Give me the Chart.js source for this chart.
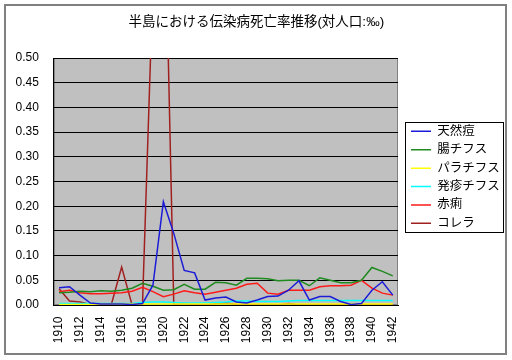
<!DOCTYPE html>
<html>
<head>
<meta charset="utf-8">
<script src="https://cdn.jsdelivr.net/npm/chart.js@4.4.1/dist/chart.umd.min.js"></script>
<style>
html, body { margin: 0; padding: 0; background: #fff; }
#wrap { width: 512px; height: 360px; }
</style>
</head>
<body>
<div id="wrap"><canvas id="chart"></canvas></div>
<script>
const years = ['1910','1911','1912','1913','1914','1915','1916','1917','1918','1919','1920',
  '1921','1922','1923','1924','1925','1926','1927','1928','1929','1930',
  '1931','1932','1933','1934','1935','1936','1937','1938','1939','1940','1941','1942'];

const smallpox = [0.035,0.037,0.020,0.004,0.002,0.002,0.002,0.001,0.003,0.040,0.209,
  0.145,0.070,0.065,0.010,0.014,0.016,0.006,0.004,0.010,0.017,
  0.018,0.030,0.049,0.010,0.017,0.017,0.007,0.001,0.003,0.030,0.047,0.020];
const typhoid = [0.025,0.026,0.028,0.027,0.029,0.028,0.030,0.034,0.044,0.038,0.030,
  0.031,0.042,0.032,0.032,0.046,0.045,0.040,0.054,0.054,0.053,
  0.049,0.050,0.050,0.039,0.055,0.050,0.045,0.045,0.050,0.076,0.068,0.059];
const paratyphoid = [0.001,0.001,0.001,0.001,0.002,0.002,0.002,0.002,0.002,0.002,0.002,
  0.002,0.002,0.002,0.002,0.002,0.002,0.002,0.002,0.002,0.002,
  0.002,0.002,0.002,0.002,0.002,0.002,0.002,0.002,0.002,0.002,0.002,0.002];
const typhus = [0.003,0.003,0.003,0.003,0.003,0.003,0.003,0.003,0.005,0.006,0.006,
  0.005,0.004,0.004,0.004,0.005,0.006,0.008,0.008,0.007,0.007,
  0.007,0.008,0.009,0.009,0.009,0.009,0.009,0.009,0.009,0.009,0.009,0.009];
const dysentery = [0.027,0.030,0.025,0.023,0.023,0.024,0.025,0.028,0.036,0.027,0.017,
  0.022,0.029,0.025,0.022,0.026,0.030,0.034,0.042,0.044,0.024,
  0.022,0.030,0.030,0.030,0.037,0.039,0.039,0.040,0.050,0.034,0.024,0.020];
const cholera = [0.033,0.008,0.006,0.001,0.000,0.000,0.077,0.000,0.001,0.650,0.950,
  0.001,0.003,0.001,0.000,0.003,0.004,0.001,0.000,0.001,0.000,
  0.000,0.003,0.000,0.000,0.000,0.000,0.000,0.000,0.000,0.000,0.000,0.000];

const FONT = "'Liberation Sans', 'Noto Sans CJK JP', sans-serif";

const series = [
  { label: '天然痘', data: smallpox, color: '#1c1cd8' },
  { label: '腸チフス', data: typhoid, color: '#1f8a1f' },
  { label: 'パラチフス', data: paratyphoid, color: '#ffff00' },
  { label: '発疹チフス', data: typhus, color: '#00ffff' },
  { label: '赤痢', data: dysentery, color: '#ff1a1a' },
  { label: 'コレラ', data: cholera, color: '#a02020' }
];

// page frame, grey plot area, legend box
const frame = {
  id: 'frame',
  beforeUpdate(chart) {
    const lg = chart.legend;
    if (lg && !lg._patched) {
      lg._patched = true;
      const fit = lg.fit, draw = lg.draw;
      // legend column is 114px wide, items start a bit inside it
      lg.fit = function () { fit.call(this); this.width = 114; };
      lg.draw = function () {
        const dx = 411 - (this.left + this.options.labels.padding);
        this.left += dx; draw.call(this); this.left -= dx;
      };
    }
  },
  beforeDraw(chart) {
    const { ctx, chartArea: a } = chart;
    ctx.save();
    ctx.fillStyle = '#fff';
    ctx.fillRect(0, 0, chart.width, chart.height);
    ctx.strokeStyle = '#808080';
    ctx.lineWidth = 2;
    ctx.strokeRect(5, 5, 501, 349);
    ctx.fillStyle = '#c0c0c0';
    ctx.fillRect(a.left, a.top, a.right - a.left, a.bottom - a.top);
    ctx.lineWidth = 1;
    ctx.strokeStyle = '#808080';
    ctx.strokeRect(a.left + 0.5, a.top + 0.5, a.right - a.left - 1, a.bottom - a.top - 1);
    ctx.restore();
  },
  afterDraw(chart) {
    const hb = chart.legend.legendHitBoxes;
    if (!hb || !hb.length) return;
    const ctx = chart.ctx;
    const first = hb[0], last = hb[hb.length - 1];
    const y0 = Math.round(first.top + first.height / 2 - 9.5) + 0.5;
    const y1 = Math.round(last.top + last.height / 2 + 9) + 0.5;
    ctx.save();
    ctx.strokeStyle = '#000';
    ctx.lineWidth = 1;
    ctx.strokeRect(405.5, y0, 98, y1 - y0);
    ctx.restore();
  }
};

new Chart(document.getElementById('chart'), {
  type: 'line',
  data: {
    labels: years,
    datasets: series.map(s => ({
      label: s.label,
      data: s.data,
      borderColor: s.color,
      backgroundColor: s.color,
      borderWidth: 1.5,
      pointRadius: 0,
      tension: 0,
      fill: false
    }))
  },
  options: {
    responsive: true,
    maintainAspectRatio: false,
    animation: false,
    layout: { padding: { top: 0, left: 0.5, right: 0, bottom: 5.3 } },
    plugins: {
      title: {
        display: true,
        text: '半島における伝染病死亡率推移(対人口:‰)',
        color: '#000',
        font: { family: FONT, size: 13.5, weight: 'normal' },
        padding: { top: 14.4, bottom: 27.4 }
      },
      legend: {
        position: 'right',
        labels: {
          color: '#000',
          font: { family: FONT, size: 12.5 },
          usePointStyle: true,
          pointStyle: 'line',
          pointStyleWidth: 20,
          padding: 5.9
        }
      },
      tooltip: { enabled: false }
    },
    scales: {
      x: {
        offset: true,
        grid: { display: false, drawTicks: false },
        border: { display: true, color: '#000', width: 1 },
        ticks: {
          color: '#000',
          font: { family: FONT, size: 12 },
          autoSkip: false,
          minRotation: 90,
          maxRotation: 90,
          padding: 11.5,
          callback: (v, i) => (i % 2 === 0 ? years[i] : '')
        }
      },
      y: {
        min: 0,
        max: 0.5,
        grid: { color: '#000', lineWidth: 1, drawTicks: false },
        border: { display: true, color: '#000', width: 1 },
        ticks: {
          stepSize: 0.05,
          color: '#000',
          font: { family: FONT, size: 12 },
          padding: 15,
          callback: v => v.toFixed(2)
        }
      }
    }
  },
  plugins: [frame]
});
</script>
</body>
</html>
